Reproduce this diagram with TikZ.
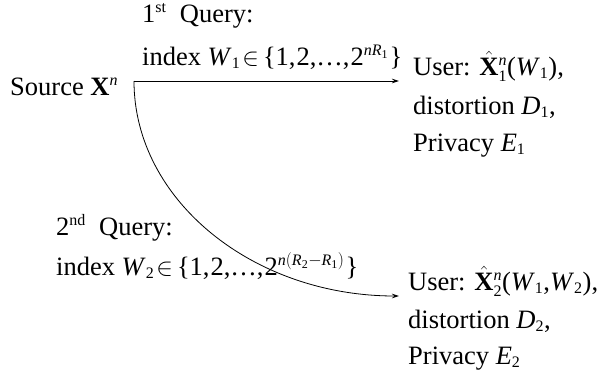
\documentclass[tikz,border=0pt]{standalone}
\usepackage{fontspec}
\setmainfont{Liberation Serif}
\usetikzlibrary{arrows.meta}
\DeclareMathSizes{26.5}{26.5}{16}{12}
\newcommand\vI[1]{\mathit{#1}}
\newcommand\vR[1]{\mathrm{#1}}
\begin{document}
\begin{tikzpicture}[x=1pt,y=1pt,
  lbl/.style={anchor=base west,inner sep=0pt,font=\fontsize{26.5}{30}\selectfont},
  conn/.style={line width=0.8pt,-{Stealth[length=7pt,width=4.5pt]}}]
\useasboundingbox (0,0) rectangle (608,-375);
\node[lbl] (src) at (10,-95) {Source $\mathbf{X}^{\vI{n}}$};
\node[lbl] (q1) at (142,-22) {1\textsuperscript{st}\ \ Query:};
\node[lbl] (i1) at (142,-65) {index \textit{W}$_{\vR{1}}\kern2pt{\in}\,$\{1,\kern1pt 2,…,\kern1pt 2$^{\vI{nR}_{\vR{1}}}$\kern1pt\}};
\node[lbl] (u1) at (413,-75) {User: $\hat{\mathbf{X}}_{\vR{1}}^{\vI{n}}$(\textit{W}$_{\vR{1}}$),};
\node[lbl] (d1) at (413,-114) {distortion \textit{D}$_{\vR{1}}$,};
\node[lbl] (p1) at (413,-151) {Privacy \textit{E}$_{\vR{1}}$};
\node[lbl] (q2) at (56,-235) {2\textsuperscript{nd}\ \ Query:};
\node[lbl] (i2) at (56,-275) {index \textit{W}$_{\vR{2}}\kern2pt{\in}\,$\{1,\kern1pt 2,…,\kern1pt 2$^{\vI{n}(\vI{R}_{\vR{2}}-\vI{R}_{\vR{1}})}$\kern1pt\}};
\node[lbl] (u2) at (408,-290) {User: $\hat{\mathbf{X}}_{\vR{2}}^{\vI{n}}$(\textit{W}$_{\vR{1}}$,\textit{W}$_{\vR{2}}$),};
\node[lbl] (d2) at (408,-328) {distortion \textit{D}$_{\vR{2}}$,};
\node[lbl] (p2) at (408,-364) {Privacy \textit{E}$_{\vR{2}}$};
\coordinate (s) at (134,-81);
\coordinate (t1) at (399,-81);
\coordinate (t2) at (399,-296);
\draw[conn] (s) -- (t1);
\draw[conn] (s) .. controls +(0,-119) and +(-146,0) .. (t2);
\end{tikzpicture}
\end{document}
